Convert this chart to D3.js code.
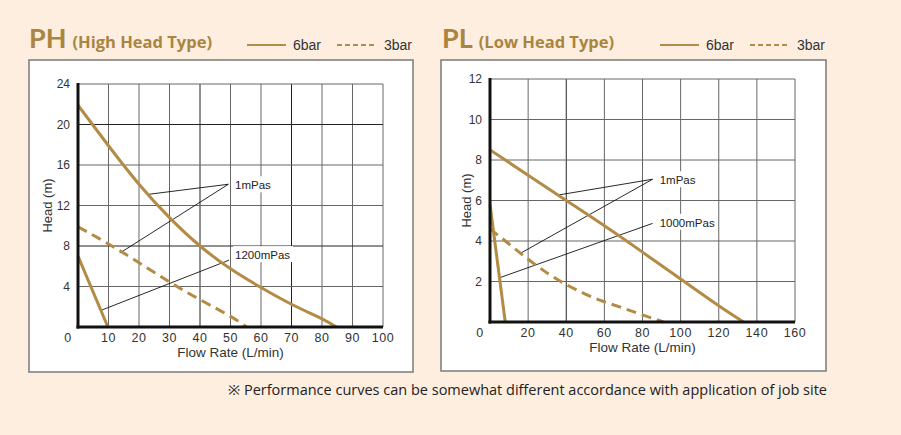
<!DOCTYPE html>
<html><head><meta charset="utf-8">
<script src="https://cdn.jsdelivr.net/npm/d3@7"></script>
<style>
html,body{margin:0;padding:0;background:#fdeee0;}
svg{display:block;}
</style></head>
<body>
<script>
// ---------- DATA ----------
// PH (High Head Type)
const phXTicks = [0,10,20,30,40,50,60,70,80,90,100];
const phYTicks = [4,8,12,16,20,24];
const ph6bar1mPas = [[0,21.9],[10,17.9],[20,14.1],[30,10.8],[40,8.0],[50,5.75],[60,3.9],[70,2.25],[80,0.8],[84.7,0]];
const ph3bar1mPas = [[0,9.9],[10,8.2],[20,6.35],[30,4.45],[40,2.7],[50,1.05],[55.2,0]];
const ph6bar1200mPas = [[0,7.0],[9.8,0]];
const phLabels = [{text:"1mPas", x:51.5, y:14.0}, {text:"1200mPas", x:51.5, y:7.1}];
const phLeaders = [[[49.3,14.1],[23,13.1]],[[49.3,14.1],[13.7,7.3]],[[49.5,6.6],[7.6,1.65]]];

// PL (Low Head Type)
const plXTicks = [0,20,40,60,80,100,120,140,160];
const plYTicks = [2,4,6,8,10,12];
const pl6bar1mPas = [[0,8.5],[20,7.25],[40,6.0],[60,4.75],[80,3.45],[100,2.12],[120,0.8],[133,0]];
const pl3bar1mPas = [[0,4.6],[10,3.85],[20,3.1],[30,2.42],[40,1.85],[50,1.38],[60,1.0],[70,0.68],[80,0.35],[91,0]];
const pl6bar1000mPas = [[0,5.8],[8,0]];
const plLabels = [{text:"1mPas", x:89, y:7.0}, {text:"1000mPas", x:89, y:4.9}];
const plLeaders = [[[85.3,7.05],[35.8,6.27]],[[85.3,7.05],[15.7,3.38]],[[85.3,4.87],[5.2,2.19]]];

const legendLabels = ["6bar","3bar"];
const footnote = "※ Performance curves can be somewhat different accordance with application of job site";

// ---------- DRAW ----------
const W=901,H=435;
const gold="#b38b45", titleCol="#a98540";
const svg=d3.select("body").append("svg").attr("width",W).attr("height",H);
svg.append("rect").attr("width",W).attr("height",H).attr("fill","#fdeee0");

function panel(o){
  const g=svg.append("g");
  // box
  g.append("rect").attr("x",o.box[0]).attr("y",o.box[1]).attr("width",o.box[2]).attr("height",o.box[3])
    .attr("fill","#fff").attr("stroke","#7a7a7a").attr("stroke-width",1.5);
  // title
  const t=g.append("text").attr("x",o.titleX).attr("y",48).attr("fill",titleCol).attr("font-weight","bold");
  t.append("tspan").attr("font-family","Lato, 'Open Sans', sans-serif").attr("font-size",27).text(o.code);
  t.append("tspan").attr("font-family","'Open Sans', Lato, sans-serif").attr("font-size",16.5).attr("dx",6).text(o.subtitle);
  // legend
  const lx=o.legendX;
  const font="Liberation Sans, Arial, sans-serif";
  g.append("line").attr("x1",lx).attr("x2",lx+39).attr("y1",45).attr("y2",45).attr("stroke",gold).attr("stroke-width",2.2);
  g.append("text").attr("x",lx+46).attr("y",50).text(legendLabels[0]).attr("font-family",font).attr("font-size",14).attr("fill","#333");
  g.append("line").attr("x1",lx+90).attr("x2",lx+129).attr("y1",45).attr("y2",45).attr("stroke",gold).attr("stroke-width",2.2).attr("stroke-dasharray","5,3");
  g.append("text").attr("x",lx+137).attr("y",50).text(legendLabels[1]).attr("font-family",font).attr("font-size",14).attr("fill","#333");

  const x=d3.scaleLinear().domain(o.xDomain).range(o.xRange);
  const y=d3.scaleLinear().domain(o.yDomain).range(o.yRange);
  // grid
  const gridG=g.append("g");
  gridG.selectAll("line.v").data(o.xTicks.filter(d=>d>0)).join("line")
    .attr("x1",d=>x(d)).attr("x2",d=>x(d)).attr("y1",y(o.yDomain[0])).attr("y2",y(o.yDomain[1]))
    .attr("stroke",d=>o.darkX.includes(d)?"#222":"#666").attr("stroke-width",1);
  gridG.selectAll("line.h").data(o.yTicks).join("line")
    .attr("x1",x(o.xDomain[0])).attr("x2",x(o.xDomain[1])).attr("y1",d=>y(d)).attr("y2",d=>y(d))
    .attr("stroke",d=>o.darkY.includes(d)?"#222":"#666").attr("stroke-width",1);
  // tick labels
  g.selectAll("text.xt").data(o.xTicks).join("text")
    .attr("x",d=>d===0?x(d)-10:x(d)).attr("y",y(0)+15).attr("text-anchor","middle")
    .attr("font-family",font).attr("font-size",12.5).attr("letter-spacing",0.6).attr("fill","#333").text(d=>d);
  g.selectAll("text.yt").data(o.yTicks).join("text")
    .attr("x",x(0)-8).attr("y",d=>y(d)+4).attr("text-anchor","end")
    .attr("font-family",font).attr("font-size",12).attr("fill","#333").text(d=>d);
  // axis titles
  g.append("text").attr("x",(o.xRange[0]+o.xRange[1])/2).attr("y",y(0)+30).attr("text-anchor","middle")
    .attr("font-family",font).attr("font-size",13.5).attr("fill","#333").text("Flow Rate (L/min)");
  g.append("text").attr("transform",`translate(${o.yTitleX},${(o.yRange[0]+o.yRange[1])/2}) rotate(-90)`)
    .attr("text-anchor","middle").attr("font-family",font).attr("font-size",13).attr("fill","#333").text("Head (m)");
  // label backgrounds + leaders
  o.labels.forEach(l=>{
    g.append("rect").attr("x",x(l.x)-2).attr("y",y(l.y)-9).attr("width",l.text.length*7+4).attr("height",16).attr("fill","#fff");
  });
  const line=d3.line().x(d=>x(d[0])).y(d=>y(d[1]));
  o.leaders.forEach(s=>g.append("path").attr("d",line(s)).attr("fill","none").attr("stroke","#111").attr("stroke-width",0.9));
  g.selectAll("text.lab").data(o.labels).join("text")
    .attr("x",d=>x(d.x)).attr("y",d=>y(d.y)+4).attr("font-family",font).attr("font-size",11.5).attr("fill","#222").text(d=>d.text);
  // curves
  const curve=d3.line().x(d=>x(d[0])).y(d=>y(d[1])).curve(d3.curveNatural);
  o.solid.forEach(s=>g.append("path").attr("d",curve(s)).attr("fill","none").attr("stroke",gold).attr("stroke-width",3));
  o.dashed.forEach(s=>g.append("path").attr("d",curve(s)).attr("fill","none").attr("stroke",gold).attr("stroke-width",3).attr("stroke-dasharray","10,6"));
  // axes thick
  g.append("line").attr("x1",x(0)).attr("x2",x(0)).attr("y1",y(o.yDomain[1])-1).attr("y2",y(0)+1.5).attr("stroke","#111").attr("stroke-width",3);
  g.append("line").attr("x1",x(0)-1.5).attr("x2",x(o.xDomain[1])).attr("y1",y(0)).attr("y2",y(0)).attr("stroke","#111").attr("stroke-width",3);
}

panel({box:[29,60,384,312], titleX:29, code:"PH", subtitle:"(High Head Type)", legendX:247,
  xDomain:[0,100], yDomain:[0,24], xRange:[78,383], yRange:[327,84], xTicks:phXTicks, yTicks:phYTicks,
  darkX:[40,70], darkY:[8,20], yTitleX:52,
  solid:[ph6bar1mPas, ph6bar1200mPas], dashed:[ph3bar1mPas], labels:phLabels, leaders:phLeaders});
panel({box:[441,60,385,311], titleX:442, code:"PL", subtitle:"(Low Head Type)", legendX:660,
  xDomain:[0,160], yDomain:[0,12], xRange:[490,795], yRange:[322,79], xTicks:plXTicks, yTicks:plYTicks,
  darkX:[40], darkY:[], yTitleX:471,
  solid:[pl6bar1mPas, pl6bar1000mPas], dashed:[pl3bar1mPas], labels:plLabels, leaders:plLeaders});

svg.append("text").attr("x",228).attr("y",395).attr("font-family","'Open Sans', 'Noto Sans', sans-serif")
  .attr("font-size",14.5).attr("fill","#222").text(footnote);
</script>
</body></html>
